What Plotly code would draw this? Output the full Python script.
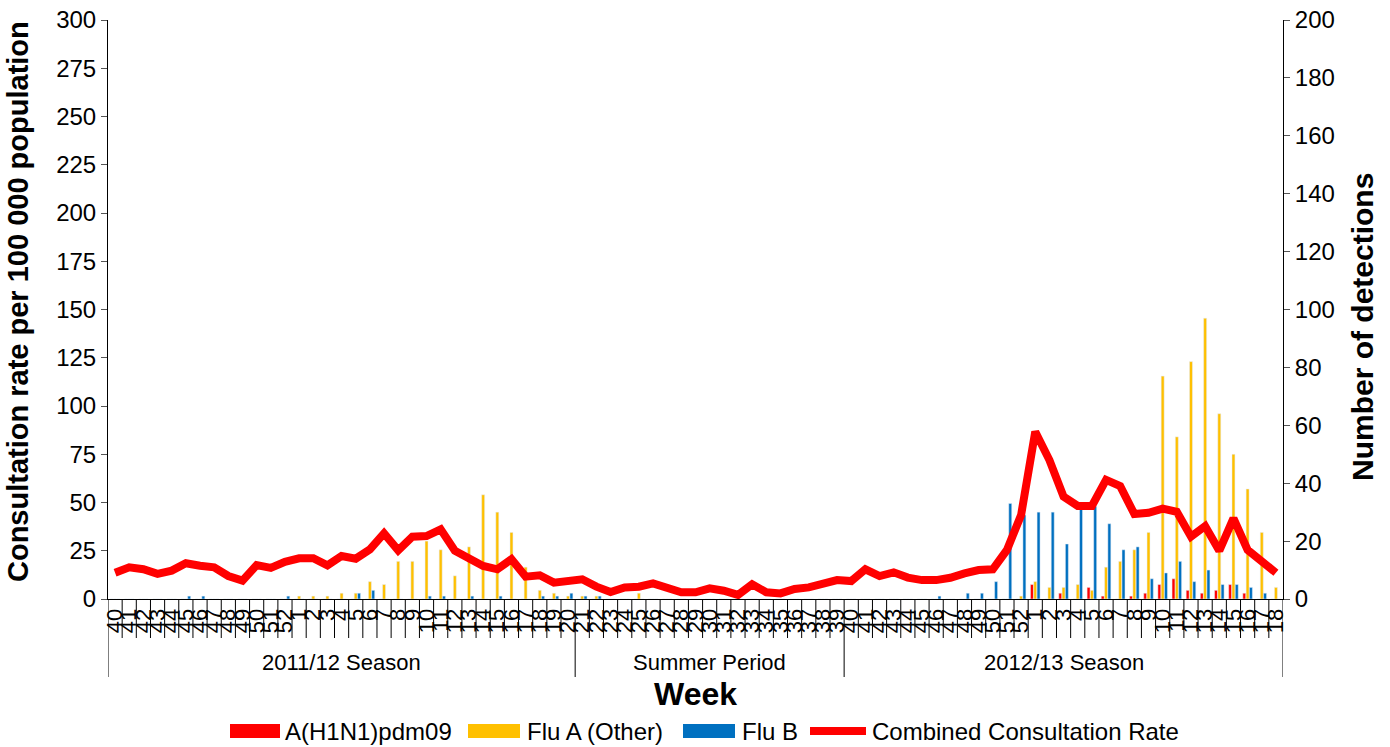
import plotly.graph_objects as go

season1_weeks = list(range(40, 53)) + list(range(1, 21))
summer_weeks = list(range(21, 40))
season2_weeks = list(range(40, 53)) + list(range(1, 19))
week_labels = [str(w) for w in season1_weeks + summer_weeks + season2_weeks]

season_names = ["2011/12 Season", "Summer Period", "2012/13 Season"]
season_lengths = [len(season1_weeks), len(summer_weeks), len(season2_weeks)]

consult_rate = [
    # 2011/12 season (wk40 - wk20)
    13.6, 16.4, 15.4, 13.0, 14.7, 18.5, 17.2, 16.4, 11.9, 9.5, 17.6, 16.1, 19.3,
    21.1, 21.1, 17.4, 22.3, 20.9, 25.7, 34.0, 25.2, 32.3, 32.6, 36.1, 25.0, 21.6,
    17.1, 15.4, 20.6, 11.6, 12.3, 8.5, 9.2,
    # summer (wk21 - wk39)
    10.2, 6.4, 3.6, 6.0, 6.4, 8.1, 5.5, 3.5, 3.5, 5.5, 4.3, 2.1, 7.6, 3.5, 2.9,
    5.2, 6.0, 7.6, 9.8,
    # 2012/13 season (wk40 - wk18)
    9.3, 15.4, 11.9, 13.8, 11.1, 9.8, 9.8, 11.0, 13.3, 15.0, 15.4, 25.4, 43.5,
    86.7, 72.0, 53.0, 48.2, 48.2, 61.7, 58.5, 44.0, 44.7, 46.8, 45.2, 32.3, 37.8,
    25.0, 41.8, 25.4, 19.8, 13.6,
]

h1n1 = [
    0] * 33 + [0] * 19 + [
    0, 0, 0, 0, 0, 0, 0, 0, 0, 0, 0, 0, 0,
    5, 0, 2, 0, 4, 1, 0, 1, 2, 5, 7, 3, 2, 3, 5, 2, 0, 0,
]

flu_a_other = [
    0, 0, 0, 0, 0, 0, 0, 0, 0, 0, 0, 0, 0,
    1, 1, 1, 2, 2, 6, 5, 13, 13, 20, 17, 8, 18, 36, 30, 23, 11, 3, 2, 1,
    1, 1, 0, 0, 2, 0, 0, 0, 0, 0, 0, 0, 0, 0, 0, 0, 0, 0, 0,
    0, 0, 0, 0, 0, 0, 0, 0, 0, 0, 0, 0, 1,
    6, 4, 4, 5, 3, 11, 13, 17, 23, 77, 56, 82, 97, 64, 50, 38, 23, 4,
]

flu_b = [
    0, 0, 0, 0, 0, 1, 1, 0, 0, 0, 0, 0, 1,
    0, 0, 0, 0, 2, 3, 0, 0, 0, 1, 1, 0, 1, 0, 1, 0, 0, 1, 1, 2,
    1, 1, 0, 0, 0, 0, 0, 0, 0, 0, 0, 0, 0, 0, 0, 0, 0, 0, 0,
    0, 0, 0, 0, 0, 0, 1, 0, 2, 2, 6, 33, 29,
    30, 30, 19, 31, 32, 26, 17, 18, 7, 9, 13, 6, 10, 5, 5, 4, 2, 0,
]

series_names = ["A(H1N1)pdm09", "Flu A (Other)", "Flu B", "Combined Consultation Rate"]
series_colors = ["#FF0000", "#FFC000", "#0070C0", "#FF0000"]

x_idx = list(range(len(week_labels)))

FONT = "Liberation Sans, Arial, sans-serif"
YTICK_SIZE = 24
XTICK_SIZE = 22
W, H = 1390, 747
ML, MR, MT, MB = 108, 107, 20, 148
PW, PH = W - ML - MR, H - MT - MB


def px_x(px):
    return (px - ML) / PW


def px_y(py):
    return (H - MB - py) / PH


fig = go.Figure()
for name, vals, col in zip(series_names[:3], [h1n1, flu_a_other, flu_b], series_colors[:3]):
    fig.add_trace(go.Bar(x=x_idx, y=vals, name=name, marker_color=col, yaxis="y",
                         showlegend=False))
fig.add_trace(go.Scatter(x=x_idx, y=consult_rate, name=series_names[3],
                         mode="lines", line=dict(color=series_colors[3], width=8),
                         yaxis="y2", showlegend=False))

# category boundary lines below the x axis
shapes = []
n = len(week_labels)
season_bounds = [0]
for L in season_lengths:
    season_bounds.append(season_bounds[-1] + L)
for k in range(n + 1):
    long = k in season_bounds
    shapes.append(dict(type="line", xref="x", yref="paper",
                       x0=k - 0.5, x1=k - 0.5, y0=0, y1=px_y(677) if long else px_y(638),
                       line=dict(color="#000000", width=1)))

annotations = []
for i, name in enumerate(season_names):
    mid = (season_bounds[i] + season_bounds[i + 1] - 1) / 2
    annotations.append(dict(x=mid, xref="x", y=px_y(662), yref="paper", text=name,
                            showarrow=False, font=dict(size=XTICK_SIZE, color="#000"),
                            xanchor="center", yanchor="middle"))
annotations.append(dict(x=0.5, xref="paper", y=px_y(694), yref="paper", text="<b>Week</b>",
                        showarrow=False, font=dict(size=32, color="#000"),
                        xanchor="center", yanchor="middle"))
annotations.append(dict(x=px_x(18), xref="paper", y=px_y(302), yref="paper",
                        text="<b>Consultation rate per 100 000 population</b>",
                        textangle=-90, showarrow=False, font=dict(size=29, color="#000"),
                        xanchor="center", yanchor="middle"))
annotations.append(dict(x=px_x(1362), xref="paper", y=px_y(327), yref="paper",
                        text="<b>Number of detections</b>",
                        textangle=-90, showarrow=False, font=dict(size=30, color="#000"),
                        xanchor="center", yanchor="middle"))

# legend (drawn as shapes + text so the swatches match the original's size)
legend_y = 731
swatches = [(230, 280), (468, 520), (683, 735), (810, 866)]
text_x = [283, 525, 740, 870]
for i, (name, col) in enumerate(zip(series_names, series_colors)):
    x0, x1 = swatches[i]
    if i < 3:
        shapes.append(dict(type="rect", xref="paper", yref="paper",
                           x0=px_x(x0), x1=px_x(x1), y0=px_y(legend_y - 7),
                           y1=px_y(legend_y + 7), fillcolor=col, line=dict(width=0)))
    else:
        shapes.append(dict(type="line", xref="paper", yref="paper",
                           x0=px_x(x0), x1=px_x(x1), y0=px_y(legend_y), y1=px_y(legend_y),
                           line=dict(color=col, width=8)))
    annotations.append(dict(x=px_x(text_x[i]), xref="paper", y=px_y(legend_y), yref="paper",
                            text=name, showarrow=False, font=dict(size=24, color="#000"),
                            xanchor="left", yanchor="middle"))

fig.update_layout(
    width=W, height=H,
    margin=dict(l=ML, r=MR, t=MT, b=MB, autoexpand=False),
    paper_bgcolor="white", plot_bgcolor="white",
    font=dict(family=FONT, color="#000", size=YTICK_SIZE),
    barmode="group", bargap=0.3, bargroupgap=0.1,
    showlegend=False,
    xaxis=dict(range=[-0.5, n - 0.5], tickmode="array", tickvals=x_idx, ticktext=week_labels,
               tickangle=-90, ticks="", showgrid=False, zeroline=False,
               showline=True, linecolor="#000", linewidth=1, automargin=False,
               tickfont=dict(size=XTICK_SIZE)),
    yaxis=dict(range=[0, 200], side="right", tickmode="linear", tick0=0, dtick=20,
               ticks="outside", ticklen=6, tickcolor="#555", showgrid=False, zeroline=False,
               showline=True, linecolor="#000", linewidth=1, automargin=False,
               tickfont=dict(size=YTICK_SIZE)),
    yaxis2=dict(range=[0, 300], side="left", overlaying="y", tickmode="linear", tick0=0,
                dtick=25, ticks="outside", ticklen=6, tickcolor="#555", showgrid=False,
                zeroline=False, showline=True, linecolor="#000", linewidth=1,
                automargin=False, tickfont=dict(size=YTICK_SIZE)),
    shapes=shapes,
    annotations=annotations,
)

fig.write_html("out.html", config={"displayModeBar": False},
               post_script="document.body.style.margin='0';document.body.style.overflow='hidden';")
